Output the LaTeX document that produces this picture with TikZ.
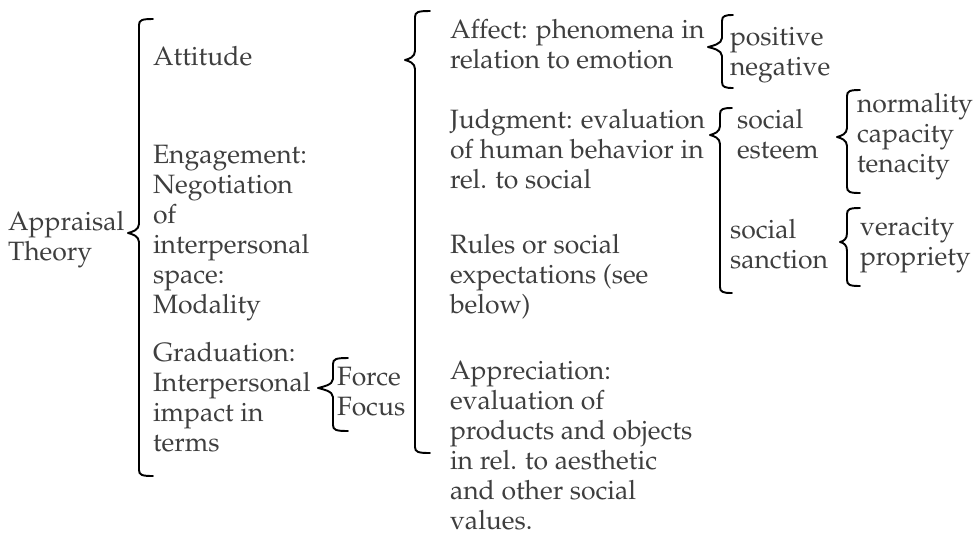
\documentclass[tikz,border=0pt]{standalone}
\usepackage[T1]{fontenc}
\usepackage{mathpazo}
\definecolor{txt}{HTML}{3E3E3E}
\tikzset{
  lbl/.style={anchor=base west, inner sep=0pt, outer sep=0pt, text=txt,
    font=\fontsize{19.9pt}{22.5pt}\selectfont},
  bracestyle/.style={draw=black, line width=1.45pt, line cap=round, line join=round}
}
% #1 vertical x, #2 hook end x, #3 top y, #4 bottom y, #5 tip x, #6 tip y
\newcommand{\wbrace}[6]{%
  \draw[bracestyle] (#2,#3) .. controls (#1+3,#3) and (#1,#3+1) .. (#1,#3+6)
    -- (#1,#6-9) .. controls (#1,#6-3) and (#5+4,#6-1) .. (#5,#6)
    .. controls (#5+4,#6+1) and (#1,#6+3) .. (#1,#6+9)
    -- (#1,#4-6) .. controls (#1,#4-1) and (#1+3,#4) .. (#2,#4);}
\newcommand{\lines}[1]{\vtop{\halign{##\hfil\cr#1\crcr}}}
\begin{document}
\begin{tikzpicture}[x=0.75pt,y=-0.75pt]
\useasboundingbox (0,0) rectangle (980,533);
% left
\node[lbl] (app) at (8,230) {\lines{Appraisal\cr Theory}};
% main brace
\wbrace{139}{153}{19}{476}{128}{233}
% first column
\node[lbl] (att) at (153,65) {Attitude};
\node[lbl] (eng) at (153,163) {\lines{Engagement:\cr Negotiation\cr of\cr interpersonal\cr space:\cr Modality}};
\node[lbl] (grad) at (153,361) {\lines{Graduation:\cr Interpersonal\cr impact in\cr terms}};
% force brace
\wbrace{333}{348}{358}{431}{318}{388}
\node[lbl] (force) at (337,385) {\lines{Force\cr Focus}};
% attitude brace
\wbrace{415}{430}{11}{453}{405}{60}
% middle column
\node[lbl] (aff) at (450,38) {\lines{Affect: phenomena in\cr relation to emotion}};
\node[lbl] (jud) at (450,128) {\lines{Judgment: evaluation\cr of human behavior in\cr rel. to social}};
\node[lbl] (rul) at (450,253) {\lines{Rules or social\cr expectations (see\cr below)}};
\node[lbl] (apr) at (450,379) {\lines{Appreciation:\cr evaluation of\cr products and objects\cr in rel. to aesthetic\cr and other social\cr values.}};
% affect brace
\wbrace{722}{733}{15}{88}{708}{47}
\node[lbl] (pos) at (730,45) {\lines{positive\cr negative}};
% judgment brace
\wbrace{720}{732}{108}{293}{710}{135}
\node[lbl] (est) at (737,128) {\lines{social\cr esteem}};
\node[lbl] (san) at (730,238) {\lines{social\cr sanction}};
% esteem brace
\wbrace{847}{860}{90}{193}{837}{137}
\node[lbl] (nor) at (857,112) {\lines{normality\cr capacity\cr tenacity}};
% sanction brace
\wbrace{847}{860}{208}{286}{840}{242}
\node[lbl] (ver) at (860,235) {\lines{veracity\cr propriety}};
\end{tikzpicture}
\end{document}
